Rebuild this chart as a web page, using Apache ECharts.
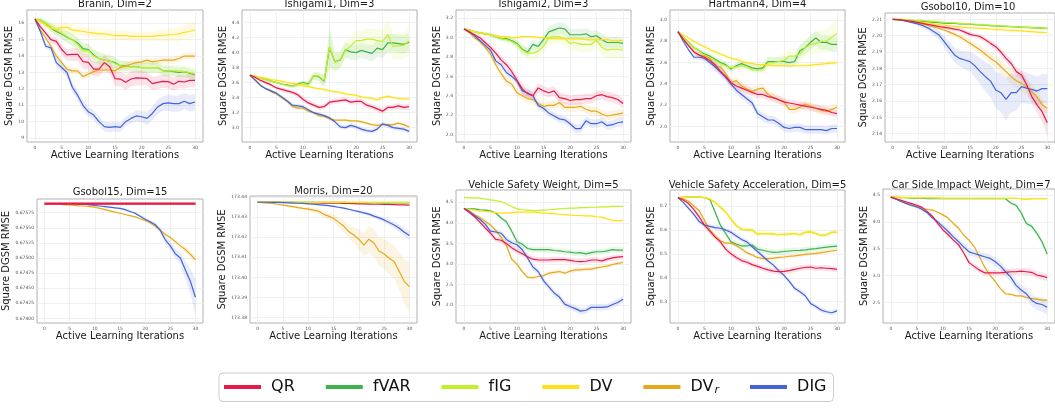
<!DOCTYPE html>
<html><head><meta charset="utf-8">
<script src="https://cdn.jsdelivr.net/npm/echarts@6/dist/echarts.min.js"></script>
<style>html,body{margin:0;padding:0;background:#fff}#c{width:1055px;height:408px}</style>
</head><body><div id="c"></div><script>
// ---------------- data ----------------
const iterations = [0,1,2,3,4,5,6,7,8,9,10,11,12,13,14,15,16,17,18,19,20,21,22,23,24,25,26,27,28,29,30];
const xTicks = [0,5,10,15,20,25,30];
const methods = ['QR','fVAR','fIG','DV','DVr','DIG'];
const titles = ['Branin, Dim=2','Ishigami1, Dim=3','Ishigami2, Dim=3','Hartmann4, Dim=4','Gsobol10, Dim=10',
  'Gsobol15, Dim=15','Morris, Dim=20','Vehicle Safety Weight, Dim=5','Vehicle Safety Acceleration, Dim=5','Car Side Impact Weight, Dim=7'];

// Branin
const bra_QR = [16.25,15.8,15.4,15.0,14.9,14.4,14.07,14.1,14.1,13.66,13.62,13.2,13.2,13.6,13.35,12.63,12.6,12.4,12.6,12.67,12.65,12.63,12.32,12.4,12.46,12.44,12.28,12.46,12.42,12.52,12.52];
const bra_fVAR = [16.25,16.2,16.0,15.7,15.5,15.35,15.15,15.0,14.8,14.45,14.4,14.05,13.85,13.75,13.7,13.6,13.4,13.4,13.35,13.35,13.3,13.3,13.3,13.3,13.1,13.1,13.05,13.0,13.05,12.95,12.85];
const bra_fIG = [16.25,16.2,16.0,15.8,15.6,15.4,15.2,15.0,14.7,14.3,14.35,14.0,13.85,13.75,13.7,13.55,13.4,13.35,13.35,13.35,13.3,13.3,13.3,13.3,13.1,13.1,13.1,13.1,13.05,13.0,12.9];
const bra_DV = [16.25,16.1,15.9,15.7,15.6,15.75,15.75,15.6,15.55,15.5,15.45,15.4,15.35,15.35,15.3,15.25,15.25,15.25,15.2,15.2,15.2,15.2,15.2,15.25,15.25,15.3,15.3,15.35,15.45,15.5,15.6];
const bra_DVr = [16.25,15.6,15.1,14.6,14.0,13.6,13.2,13.1,13.1,12.75,12.9,13.05,13.15,13.15,13.15,13.1,13.3,13.4,13.5,13.6,13.65,13.75,13.65,13.7,13.75,13.75,13.75,13.85,14.0,14.0,14.0];
const bra_DIG = [16.25,15.5,14.6,14.5,13.6,13.3,13.0,12.1,11.6,11.0,10.6,10.4,10.0,9.7,9.65,9.7,9.65,10.0,10.2,10.35,10.3,10.2,10.5,10.9,11.1,11.15,11.1,11.1,11.25,11.1,11.2];
const bra_QRsd = [0.05,0.1,0.15,0.2,0.25,0.3,0.35,0.4,0.4,0.45,0.45,0.45,0.45,0.45,0.45,0.45,0.45,0.45,0.45,0.45,0.45,0.4,0.4,0.4,0.4,0.4,0.4,0.4,0.4,0.4,0.4];
const bra_fVARsd = [0.05,0.15,0.2,0.25,0.3,0.3,0.35,0.35,0.35,0.35,0.35,0.35,0.35,0.35,0.35,0.35,0.3,0.3,0.3,0.3,0.3,0.3,0.3,0.3,0.3,0.3,0.3,0.3,0.3,0.3,0.3];
const bra_fIGsd = [0.05,0.15,0.2,0.25,0.3,0.35,0.35,0.4,0.4,0.4,0.4,0.4,0.4,0.4,0.4,0.35,0.35,0.35,0.35,0.35,0.35,0.35,0.35,0.35,0.35,0.35,0.35,0.35,0.35,0.35,0.35];
const bra_DVsd = [0.05,0.15,0.2,0.25,0.3,0.3,0.3,0.3,0.3,0.3,0.3,0.3,0.3,0.3,0.3,0.3,0.3,0.3,0.3,0.3,0.3,0.3,0.3,0.35,0.35,0.4,0.4,0.45,0.45,0.5,0.5];
const bra_DVrsd = [0.05,0.1,0.15,0.2,0.2,0.2,0.2,0.2,0.2,0.2,0.2,0.2,0.2,0.2,0.2,0.2,0.2,0.2,0.2,0.2,0.2,0.2,0.2,0.2,0.2,0.2,0.2,0.2,0.2,0.2,0.2];
const bra_DIGsd = [0.05,0.1,0.15,0.2,0.25,0.25,0.3,0.3,0.3,0.3,0.3,0.3,0.3,0.3,0.3,0.3,0.3,0.3,0.3,0.35,0.35,0.4,0.4,0.45,0.45,0.5,0.5,0.5,0.5,0.5,0.5];
const bra_ticks = [9,10,11,12,13,14,15,16];

// Ishigami1
const ish1_QR = [3.7,3.67,3.63,3.6,3.57,3.53,3.51,3.49,3.47,3.44,3.38,3.33,3.3,3.27,3.28,3.34,3.35,3.36,3.37,3.34,3.35,3.35,3.3,3.28,3.25,3.22,3.27,3.27,3.29,3.27,3.28];
const ish1_fVAR = [3.7,3.68,3.66,3.64,3.62,3.6,3.58,3.57,3.55,3.58,3.6,3.58,3.69,3.68,3.62,4.07,3.88,3.9,4.04,4.01,4.0,4.03,4.01,3.99,4.06,4.04,4.13,4.13,4.12,4.11,4.14];
const ish1_fIG = [3.7,3.68,3.66,3.64,3.62,3.6,3.58,3.56,3.55,3.57,3.59,3.57,3.69,3.69,3.63,4.08,3.87,3.91,4.03,4.09,4.16,4.16,4.18,4.18,4.16,4.15,4.24,4.08,4.09,4.1,4.16];
const ish1_DV = [3.7,3.69,3.67,3.66,3.64,3.63,3.62,3.6,3.59,3.58,3.56,3.55,3.53,3.52,3.51,3.49,3.48,3.47,3.45,3.44,3.43,3.41,3.4,3.39,3.37,3.4,3.42,3.4,3.39,3.385,3.38];
const ish1_DVr = [3.7,3.64,3.57,3.52,3.48,3.45,3.4,3.35,3.28,3.26,3.26,3.22,3.2,3.16,3.15,3.12,3.1,3.1,3.1,3.09,3.09,3.08,3.06,3.04,3.03,3.04,3.04,3.04,3.06,3.04,3.01];
const ish1_DIG = [3.7,3.63,3.56,3.52,3.49,3.46,3.41,3.36,3.3,3.29,3.28,3.24,3.2,3.18,3.16,3.13,3.08,3.01,3.0,3.03,3.01,2.98,2.96,2.95,2.98,3.05,3.03,3.0,2.99,2.98,2.95];
const ish1_QRsd = [0.01,0.015,0.02,0.02,0.025,0.025,0.03,0.03,0.03,0.03,0.035,0.035,0.035,0.035,0.035,0.035,0.035,0.035,0.035,0.035,0.04,0.04,0.04,0.04,0.04,0.04,0.04,0.04,0.04,0.04,0.04];
const ish1_fVARsd = [0.01,0.01,0.01,0.01,0.01,0.01,0.01,0.01,0.02,0.03,0.03,0.04,0.05,0.06,0.08,0.25,0.12,0.1,0.1,0.1,0.1,0.1,0.1,0.11,0.11,0.12,0.12,0.12,0.12,0.12,0.12];
const ish1_fIGsd = [0.01,0.01,0.01,0.01,0.01,0.01,0.01,0.01,0.02,0.03,0.03,0.04,0.05,0.06,0.08,0.3,0.14,0.12,0.12,0.12,0.13,0.13,0.14,0.14,0.15,0.16,0.2,0.17,0.18,0.18,0.2];
const ish1_DVsd = [0.01,0.01,0.01,0.01,0.015,0.015,0.015,0.015,0.015,0.015,0.02,0.02,0.02,0.02,0.02,0.02,0.02,0.02,0.02,0.02,0.02,0.02,0.02,0.02,0.02,0.02,0.02,0.02,0.02,0.02,0.02];
const ish1_DVrsd = [0.01,0.01,0.015,0.015,0.015,0.02,0.02,0.02,0.02,0.02,0.02,0.02,0.02,0.02,0.02,0.02,0.02,0.02,0.02,0.02,0.02,0.02,0.02,0.02,0.02,0.02,0.02,0.02,0.02,0.02,0.02];
const ish1_DIGsd = [0.01,0.01,0.015,0.015,0.02,0.02,0.02,0.02,0.025,0.025,0.025,0.025,0.025,0.025,0.025,0.03,0.03,0.03,0.03,0.03,0.03,0.03,0.03,0.03,0.03,0.03,0.03,0.03,0.03,0.03,0.03];
const ish1_ticks = [3.0,3.2,3.4,3.6,3.8,4.0,4.2,4.4];

// Ishigami2
const ish2_QR = [3.09,3.06,3.03,3.0,2.95,2.9,2.84,2.77,2.72,2.65,2.56,2.47,2.42,2.4,2.48,2.45,2.43,2.45,2.38,2.37,2.35,2.36,2.36,2.37,2.37,2.4,2.41,2.39,2.38,2.36,2.32];
const ish2_fVAR = [3.09,3.08,3.06,3.05,3.04,3.03,3.01,2.99,2.99,2.97,2.94,2.88,2.85,2.93,2.91,2.98,3.06,3.08,3.1,3.09,3.03,3.03,3.03,3.04,3.01,3.02,2.98,2.95,2.95,2.95,2.94];
const ish2_fIG = [3.09,3.08,3.06,3.05,3.04,3.03,3.01,2.99,2.98,2.96,2.93,2.87,2.84,2.84,2.86,2.91,3.0,3.01,3.01,2.99,2.94,2.95,2.93,2.93,2.93,2.97,2.9,2.87,2.88,2.88,2.87];
const ish2_DV = [3.09,3.07,3.06,3.05,3.04,3.03,3.02,3.01,3.01,3.0,3.0,3.01,3.01,3.01,3.0,3.0,2.99,2.99,2.99,2.99,2.99,2.99,2.99,2.98,2.98,2.98,2.98,2.98,2.97,2.97,2.97];
const ish2_DVr = [3.09,3.05,3.0,2.96,2.9,2.83,2.72,2.63,2.55,2.52,2.43,2.4,2.37,2.36,2.32,2.29,2.3,2.3,2.33,2.28,2.28,2.28,2.29,2.26,2.24,2.24,2.21,2.19,2.2,2.21,2.22];
const ish2_DIG = [3.09,3.06,3.02,2.97,2.92,2.87,2.76,2.72,2.64,2.6,2.55,2.45,2.43,2.4,2.3,2.27,2.22,2.19,2.16,2.15,2.11,2.06,2.06,2.14,2.11,2.11,2.13,2.09,2.1,2.12,2.13];
const ish2_QRsd = [0.005,0.01,0.015,0.02,0.025,0.03,0.035,0.04,0.045,0.05,0.05,0.05,0.05,0.05,0.05,0.05,0.05,0.05,0.05,0.05,0.05,0.05,0.05,0.05,0.05,0.05,0.05,0.05,0.05,0.05,0.05];
const ish2_fVARsd = [0.005,0.01,0.01,0.015,0.015,0.02,0.02,0.025,0.025,0.03,0.04,0.05,0.05,0.05,0.05,0.05,0.06,0.06,0.06,0.06,0.06,0.06,0.06,0.06,0.06,0.06,0.06,0.06,0.06,0.06,0.06];
const ish2_fIGsd = [0.005,0.01,0.01,0.015,0.015,0.02,0.02,0.025,0.03,0.035,0.04,0.05,0.06,0.06,0.07,0.07,0.07,0.07,0.07,0.07,0.08,0.08,0.08,0.08,0.08,0.08,0.09,0.09,0.09,0.09,0.09];
const ish2_DVsd = [0.005,0.01,0.01,0.01,0.01,0.015,0.015,0.015,0.015,0.015,0.015,0.015,0.015,0.015,0.015,0.015,0.015,0.015,0.015,0.015,0.015,0.015,0.015,0.015,0.015,0.015,0.015,0.015,0.015,0.015,0.015];
const ish2_DVrsd = [0.005,0.01,0.02,0.025,0.03,0.035,0.04,0.04,0.04,0.045,0.045,0.045,0.045,0.045,0.045,0.045,0.045,0.045,0.045,0.045,0.045,0.045,0.045,0.045,0.045,0.045,0.045,0.045,0.045,0.045,0.045];
const ish2_DIGsd = [0.005,0.01,0.015,0.02,0.025,0.03,0.03,0.03,0.035,0.035,0.035,0.04,0.04,0.04,0.04,0.04,0.04,0.04,0.04,0.04,0.04,0.045,0.045,0.045,0.045,0.045,0.045,0.045,0.045,0.045,0.045];
const ish2_ticks = [2.0,2.2,2.4,2.6,2.8,3.0,3.2];

// Hartmann4
const har_QR = [2.89,2.82,2.76,2.7,2.67,2.65,2.62,2.58,2.52,2.47,2.41,2.38,2.36,2.34,2.32,2.3,2.3,2.28,2.27,2.25,2.23,2.22,2.21,2.2,2.19,2.18,2.17,2.16,2.15,2.13,2.12];
const har_fVAR = [2.89,2.84,2.79,2.74,2.71,2.68,2.66,2.63,2.6,2.58,2.54,2.57,2.59,2.57,2.55,2.54,2.55,2.61,2.61,2.61,2.61,2.6,2.61,2.71,2.74,2.79,2.83,2.79,2.79,2.77,2.77];
const har_fIG = [2.89,2.84,2.79,2.74,2.71,2.67,2.65,2.62,2.59,2.57,2.55,2.56,2.57,2.56,2.53,2.53,2.53,2.6,2.6,2.61,2.62,2.66,2.66,2.68,2.74,2.77,2.78,2.8,2.8,2.84,2.87];
const har_DV = [2.89,2.86,2.83,2.8,2.77,2.75,2.72,2.7,2.68,2.66,2.64,2.63,2.61,2.6,2.59,2.58,2.58,2.58,2.57,2.57,2.57,2.57,2.57,2.57,2.57,2.575,2.58,2.585,2.59,2.595,2.6];
const har_DVr = [2.89,2.82,2.76,2.7,2.67,2.66,2.64,2.56,2.56,2.5,2.41,2.43,2.38,2.35,2.33,2.35,2.36,2.3,2.27,2.25,2.23,2.16,2.16,2.18,2.21,2.19,2.17,2.15,2.14,2.16,2.18];
const har_DIG = [2.89,2.8,2.72,2.65,2.65,2.64,2.6,2.56,2.51,2.46,2.4,2.34,2.3,2.26,2.22,2.12,2.09,2.06,2.06,2.03,1.99,1.98,1.99,1.99,1.97,1.97,1.97,1.97,1.96,1.98,1.98];
const har_QRsd = [0.005,0.01,0.015,0.02,0.025,0.03,0.03,0.035,0.035,0.035,0.035,0.035,0.035,0.035,0.035,0.035,0.035,0.035,0.035,0.035,0.035,0.035,0.035,0.035,0.035,0.035,0.035,0.035,0.035,0.035,0.035];
const har_fVARsd = [0.005,0.01,0.015,0.02,0.02,0.025,0.025,0.03,0.03,0.03,0.03,0.03,0.03,0.03,0.03,0.03,0.035,0.04,0.04,0.04,0.05,0.05,0.05,0.06,0.06,0.07,0.07,0.07,0.07,0.07,0.07];
const har_fIGsd = [0.005,0.01,0.015,0.02,0.02,0.025,0.025,0.03,0.03,0.03,0.03,0.03,0.03,0.03,0.03,0.03,0.04,0.05,0.05,0.05,0.06,0.06,0.07,0.07,0.08,0.09,0.1,0.1,0.11,0.12,0.13];
const har_DVsd = [0.005,0.01,0.01,0.015,0.015,0.02,0.02,0.02,0.02,0.02,0.02,0.02,0.02,0.02,0.02,0.02,0.02,0.02,0.02,0.02,0.02,0.02,0.02,0.02,0.02,0.02,0.02,0.02,0.02,0.02,0.02];
const har_DVrsd = [0.005,0.01,0.015,0.02,0.025,0.03,0.03,0.035,0.035,0.04,0.04,0.04,0.04,0.04,0.04,0.04,0.04,0.04,0.04,0.04,0.04,0.04,0.04,0.04,0.04,0.04,0.04,0.04,0.04,0.04,0.04];
const har_DIGsd = [0.005,0.01,0.015,0.02,0.025,0.03,0.035,0.04,0.04,0.04,0.04,0.04,0.04,0.04,0.04,0.04,0.04,0.04,0.04,0.04,0.04,0.04,0.04,0.04,0.04,0.04,0.04,0.04,0.04,0.04,0.04];
const har_ticks = [2.0,2.2,2.4,2.6,2.8,3.0];

// Gsobol10
const gs10_QR = [2.21,2.2098,2.2095,2.2091,2.2086,2.208,2.2074,2.2068,2.2062,2.2056,2.2051,2.2046,2.204,2.2035,2.2022,2.2008,2.2001,2.1994,2.1975,2.1953,2.1933,2.19,2.1861,2.183,2.178,2.176,2.17,2.1627,2.1576,2.1535,2.1467];
const gs10_fVAR = [2.21,2.2099,2.2097,2.2095,2.2092,2.2089,2.2087,2.2085,2.2082,2.208,2.2077,2.2076,2.2075,2.2073,2.2072,2.207,2.2068,2.2066,2.2064,2.2062,2.206,2.2058,2.2057,2.2055,2.2054,2.2052,2.2051,2.2049,2.2048,2.2046,2.2045];
const gs10_fIG = [2.21,2.2101,2.21,2.2098,2.2096,2.2094,2.2092,2.209,2.2088,2.2085,2.2082,2.208,2.2078,2.2076,2.2074,2.2072,2.207,2.2068,2.2066,2.2064,2.2062,2.206,2.2058,2.2056,2.2055,2.2053,2.2051,2.205,2.2048,2.2047,2.2045];
const gs10_DV = [2.21,2.2098,2.2095,2.2092,2.2088,2.2084,2.208,2.2076,2.2072,2.2068,2.2064,2.206,2.2057,2.2054,2.2051,2.2049,2.2047,2.2045,2.2043,2.2041,2.2039,2.2037,2.2035,2.2033,2.2031,2.2029,2.2027,2.2025,2.2022,2.202,2.2018];
const gs10_DVr = [2.21,2.2097,2.2093,2.2089,2.2083,2.2076,2.2069,2.2061,2.2053,2.2044,2.2035,2.2022,2.2008,2.1994,2.1974,2.1953,2.1932,2.1912,2.1886,2.1861,2.1841,2.181,2.178,2.1749,2.1724,2.1708,2.1684,2.1657,2.1627,2.1576,2.1555];
const gs10_DIG = [2.21,2.2099,2.2093,2.2086,2.2079,2.2071,2.2059,2.2045,2.2024,2.2004,2.1963,2.1922,2.1882,2.1861,2.1851,2.1841,2.1814,2.178,2.1749,2.1722,2.1667,2.1651,2.161,2.1651,2.1651,2.1688,2.1678,2.1671,2.1661,2.1676,2.1676];
const gs10_QRsd = [0,0.0002,0.0003,0.0004,0.0005,0.0006,0.0007,0.0008,0.0009,0.001,0.001,0.0011,0.0012,0.0013,0.0014,0.0015,0.0016,0.0017,0.0018,0.0019,0.002,0.0022,0.0024,0.0026,0.0028,0.003,0.0035,0.004,0.005,0.006,0.008];
const gs10_fVARsd = [0,0.0001,0.0001,0.0002,0.0002,0.0003,0.0003,0.0003,0.0004,0.0004,0.0004,0.0004,0.0004,0.0005,0.0005,0.0005,0.0005,0.0005,0.0005,0.0006,0.0006,0.0006,0.0006,0.0006,0.0006,0.0006,0.0007,0.0007,0.0007,0.0007,0.0007];
const gs10_fIGsd = [0,0.0001,0.0002,0.0002,0.0003,0.0003,0.0004,0.0004,0.0005,0.0005,0.0005,0.0006,0.0006,0.0006,0.0007,0.0007,0.0007,0.0008,0.0008,0.0008,0.0008,0.0009,0.0009,0.0009,0.0009,0.001,0.001,0.001,0.001,0.001,0.001];
const gs10_DVsd = [0,0.0001,0.0002,0.0003,0.0004,0.0005,0.0006,0.0006,0.0007,0.0007,0.0008,0.0008,0.0008,0.0009,0.0009,0.0009,0.001,0.001,0.001,0.001,0.001,0.001,0.001,0.001,0.001,0.001,0.001,0.001,0.001,0.001,0.001];
const gs10_DVrsd = [0,0.0002,0.0003,0.0004,0.0005,0.0006,0.0007,0.0008,0.0009,0.001,0.0012,0.0014,0.0016,0.0018,0.002,0.0022,0.0025,0.0028,0.003,0.0033,0.0036,0.004,0.0042,0.0045,0.0048,0.005,0.005,0.005,0.0045,0.0035,0.003];
const gs10_DIGsd = [0,0.0002,0.0004,0.0006,0.0008,0.001,0.0015,0.002,0.0025,0.003,0.0035,0.004,0.0045,0.005,0.0055,0.006,0.007,0.008,0.009,0.01,0.011,0.012,0.013,0.012,0.011,0.01,0.0095,0.009,0.009,0.009,0.009];
const gs10_ticks = [2.14,2.15,2.16,2.17,2.18,2.19,2.20,2.21];

// Gsobol15
const gs15_QR = [0.6759,0.6759,0.6759,0.6759,0.6759,0.6759,0.6759,0.6759,0.6759,0.6759,0.6759,0.6759,0.6759,0.6759,0.6759,0.6759,0.6759,0.6759,0.6759,0.6759,0.6759,0.6759,0.6759,0.6759,0.6759,0.6759,0.6759,0.6759,0.6759,0.6759,0.6759];
const gs15_fVAR = [0.6759,0.6759,0.6759,0.6759,0.6759,0.6759,0.6759,0.6759,0.6759,0.6759,0.6759,0.6759,0.6759,0.6759,0.6759,0.6759,0.6759,0.6759,0.6759,0.6759,0.6759,0.6759,0.6759,0.6759,0.6759,0.6759,0.6759,0.6759,0.6759,0.6759,0.6759];
const gs15_fIG = [0.6759,0.6759,0.6759,0.6759,0.6759,0.6759,0.6759,0.6759,0.6759,0.6759,0.6759,0.6759,0.6759,0.6759,0.6759,0.6759,0.6759,0.6759,0.6759,0.6759,0.6759,0.6759,0.6759,0.6759,0.6759,0.6759,0.6759,0.6759,0.6759,0.6759,0.6759];
const gs15_DV = [0.6759,0.6759,0.6759,0.6759,0.6759,0.6759,0.6759,0.6759,0.6759,0.6759,0.6759,0.6759,0.6759,0.6759,0.6759,0.6759,0.6759,0.6759,0.6759,0.6759,0.6759,0.6759,0.6759,0.6759,0.6759,0.6759,0.6759,0.6759,0.6759,0.6759,0.6759];
const gs15_DVr = [0.6759,0.6759,0.67589,0.67589,0.67588,0.67588,0.67587,0.67586,0.67586,0.67585,0.67584,0.67582,0.6758,0.67578,0.67576,0.67574,0.67572,0.6757,0.67568,0.67565,0.67562,0.67558,0.67553,0.67546,0.67539,0.67534,0.67527,0.6752,0.67514,0.67506,0.67497];
const gs15_DIG = [0.6759,0.6759,0.6759,0.6759,0.6759,0.6759,0.6759,0.67589,0.67589,0.67588,0.67587,0.67586,0.67585,0.67584,0.67583,0.67582,0.6758,0.67577,0.67574,0.67569,0.67564,0.6756,0.67555,0.67546,0.6753,0.6752,0.67507,0.675,0.6748,0.67461,0.67435];
const gs15_QRsd = [0.00002,0.00002,0.00002,0.00002,0.00002,0.00002,0.00002,0.00002,0.00002,0.00002,0.00002,0.00002,0.00002,0.00002,0.00002,0.00002,0.00002,0.00002,0.00002,0.00002,0.00002,0.00002,0.00002,0.00002,0.00002,0.00002,0.00002,0.00002,0.00002,0.00002,0.00002];
const gs15_flatsd = [0.000003,0.000003,0.000003,0.000003,0.000003,0.000003,0.000003,0.000003,0.000003,0.000003,0.000003,0.000003,0.000003,0.000003,0.000003,0.000003,0.000003,0.000003,0.000003,0.000003,0.000003,0.000003,0.000003,0.000003,0.000003,0.000003,0.000003,0.000003,0.000003,0.000003,0.000003];
const gs15_DVrsd = [0,0,0,0,0.000005,0.000005,0.000005,0.000005,0.000005,0.000005,0.00001,0.00001,0.00001,0.00001,0.00001,0.00001,0.00001,0.00001,0.00001,0.000015,0.000015,0.00002,0.00002,0.000025,0.00003,0.000035,0.00004,0.000045,0.00005,0.00006,0.00007];
const gs15_DIGsd = [0,0,0,0,0.000005,0.000005,0.000005,0.000005,0.000005,0.000005,0.000005,0.000005,0.00001,0.00001,0.00001,0.00001,0.000015,0.000015,0.00002,0.00002,0.000025,0.00003,0.00004,0.00005,0.00006,0.00007,0.00008,0.0001,0.00015,0.0002,0.0003];
const gs15_ticks = [0.674,0.67425,0.6745,0.67475,0.675,0.67525,0.6755,0.67575];

// Morris
const mor_QR = [173.4374,173.4374,173.4374,173.4374,173.4373,173.4373,173.4373,173.4373,173.4372,173.4372,173.4372,173.4371,173.4371,173.437,173.437,173.4369,173.4369,173.4368,173.4368,173.4367,173.4366,173.4366,173.4365,173.4364,173.4364,173.4363,173.4363,173.4362,173.4361,173.4361,173.436];
const mor_fVAR = [173.4374,173.4374,173.4374,173.4374,173.4374,173.4374,173.4374,173.4374,173.4374,173.4374,173.4373,173.4373,173.4373,173.4373,173.4373,173.4373,173.4373,173.4373,173.4372,173.4372,173.4372,173.4372,173.4372,173.4372,173.4371,173.4371,173.4371,173.4371,173.4371,173.4371,173.4371];
const mor_fIG = [173.4374,173.4374,173.4374,173.4374,173.4374,173.4374,173.4374,173.4374,173.4374,173.4374,173.4374,173.4374,173.4374,173.4374,173.4373,173.4373,173.4373,173.4373,173.4373,173.4373,173.4373,173.4373,173.4373,173.4373,173.4373,173.4373,173.4373,173.4373,173.4373,173.4373,173.4373];
const mor_DV = [173.4374,173.4374,173.4374,173.4374,173.4374,173.4374,173.4374,173.4374,173.4374,173.4374,173.4374,173.4374,173.4374,173.4374,173.4374,173.4374,173.4374,173.4374,173.4374,173.4374,173.4374,173.4374,173.4374,173.4374,173.4374,173.4374,173.4374,173.4374,173.4374,173.4374,173.4374];
const mor_DVr = [173.4374,173.4372,173.437,173.4368,173.4364,173.436,173.4356,173.4352,173.4347,173.4343,173.434,173.4335,173.433,173.4315,173.4305,173.4294,173.4275,173.4256,173.4228,173.4211,173.419,173.4161,173.419,173.417,173.4131,173.4116,173.4095,173.4078,173.4029,173.3979,173.3954];
const mor_DIG = [173.4374,173.4374,173.4374,173.4373,173.4373,173.4372,173.4371,173.437,173.4369,173.4368,173.4366,173.4364,173.4362,173.436,173.4357,173.4353,173.4349,173.4345,173.4339,173.4333,173.4327,173.4321,173.4315,173.4305,173.4296,173.4286,173.4273,173.4261,173.4244,173.4225,173.4208];
const mor_flatsd = [0.00005,0.00005,0.00005,0.00005,0.00005,0.00005,0.00005,0.00005,0.00005,0.00005,0.00005,0.00005,0.00005,0.00005,0.00005,0.00005,0.00005,0.00005,0.00005,0.00005,0.00005,0.00005,0.00005,0.00005,0.00005,0.00005,0.00005,0.00005,0.00005,0.00005,0.00005];
const mor_DVrsd = [0,0.0001,0.0002,0.0003,0.0004,0.0005,0.0006,0.0007,0.0008,0.0009,0.001,0.0012,0.0014,0.0016,0.0018,0.002,0.0025,0.003,0.0035,0.004,0.005,0.006,0.0065,0.007,0.0072,0.0075,0.008,0.0085,0.0095,0.011,0.0125];
const mor_DIGsd = [0,0,0.0001,0.0001,0.0001,0.0001,0.0002,0.0002,0.0002,0.0002,0.0003,0.0003,0.0003,0.0004,0.0004,0.0004,0.0005,0.0005,0.0006,0.0006,0.0007,0.0008,0.0009,0.001,0.0011,0.0012,0.0014,0.0016,0.0018,0.002,0.0023];
const mor_ticks = [173.38,173.39,173.40,173.41,173.42,173.43,173.44];

// Vehicle Safety Weight
const vsw_QR = [4.35,4.25,4.15,4.02,3.88,3.75,3.6,3.58,3.5,3.4,3.32,3.25,3.18,3.12,3.1,3.1,3.1,3.11,3.11,3.11,3.09,3.07,3.06,3.07,3.1,3.1,3.08,3.12,3.15,3.17,3.18];
const vsw_fVAR = [4.35,4.34,4.34,4.32,4.31,4.29,4.24,4.12,4.03,3.8,3.55,3.48,3.38,3.35,3.35,3.35,3.35,3.33,3.32,3.3,3.29,3.27,3.28,3.25,3.28,3.3,3.3,3.32,3.35,3.34,3.34];
const vsw_fIG = [4.62,4.61,4.61,4.6,4.58,4.56,4.54,4.52,4.46,4.4,4.34,4.32,4.31,4.3,4.3,4.31,4.32,4.33,4.34,4.35,4.36,4.36,4.37,4.37,4.38,4.38,4.39,4.39,4.4,4.4,4.4];
const vsw_DV = [4.35,4.33,4.31,4.29,4.28,4.27,4.25,4.24,4.24,4.25,4.26,4.26,4.26,4.26,4.25,4.24,4.23,4.22,4.21,4.2,4.19,4.18,4.18,4.17,4.17,4.15,4.14,4.1,4.06,4.05,4.06];
const vsw_DVr = [4.35,4.29,4.2,4.13,4.04,3.95,3.82,3.65,3.45,3.12,3.0,2.82,2.68,2.67,2.7,2.72,2.78,2.8,2.82,2.78,2.83,2.86,2.86,2.88,2.88,2.91,2.93,2.95,2.99,3.02,3.04];
const vsw_DIG = [4.35,4.28,4.18,4.09,3.97,3.8,3.78,3.75,3.6,3.52,3.47,3.35,3.15,2.93,2.82,2.6,2.45,2.3,2.2,2.03,1.97,1.92,1.86,1.88,1.95,1.95,1.95,1.96,2.02,2.07,2.15];
const vsw_QRsd = [0.01,0.03,0.04,0.05,0.06,0.07,0.07,0.07,0.07,0.07,0.07,0.07,0.07,0.07,0.07,0.07,0.07,0.07,0.07,0.07,0.07,0.07,0.07,0.07,0.07,0.07,0.07,0.07,0.07,0.07,0.07];
const vsw_fVARsd = [0.01,0.02,0.02,0.03,0.03,0.04,0.04,0.05,0.06,0.07,0.08,0.08,0.07,0.07,0.07,0.07,0.07,0.07,0.07,0.07,0.07,0.07,0.07,0.07,0.07,0.07,0.07,0.07,0.07,0.07,0.07];
const vsw_fIGsd = [0.02,0.02,0.02,0.02,0.02,0.02,0.02,0.02,0.02,0.02,0.02,0.02,0.02,0.02,0.02,0.02,0.02,0.02,0.02,0.02,0.02,0.02,0.02,0.02,0.02,0.02,0.02,0.02,0.02,0.02,0.02];
const vsw_DVsd = [0.01,0.02,0.02,0.02,0.02,0.02,0.02,0.02,0.02,0.02,0.025,0.025,0.025,0.025,0.025,0.025,0.025,0.025,0.025,0.025,0.03,0.03,0.03,0.03,0.03,0.03,0.03,0.03,0.03,0.03,0.03];
const vsw_DVrsd = [0.01,0.03,0.04,0.05,0.05,0.05,0.05,0.05,0.05,0.05,0.05,0.05,0.05,0.05,0.05,0.05,0.05,0.05,0.05,0.05,0.05,0.05,0.05,0.05,0.05,0.05,0.05,0.05,0.05,0.05,0.05];
const vsw_DIGsd = [0.01,0.03,0.04,0.05,0.06,0.06,0.07,0.07,0.07,0.07,0.08,0.08,0.08,0.08,0.08,0.08,0.08,0.08,0.08,0.08,0.08,0.08,0.08,0.08,0.08,0.08,0.08,0.08,0.08,0.08,0.08];
const vsw_ticks = [2.0,2.5,3.0,3.5,4.0,4.5];

// Vehicle Safety Acceleration
const vsa_QR = [0.735,0.725,0.71,0.685,0.655,0.62,0.595,0.57,0.55,0.52,0.5,0.485,0.472,0.465,0.455,0.448,0.44,0.433,0.428,0.426,0.427,0.43,0.435,0.44,0.443,0.445,0.44,0.442,0.44,0.438,0.435];
const vsa_fVAR = [0.735,0.736,0.737,0.737,0.737,0.735,0.728,0.675,0.62,0.585,0.55,0.541,0.533,0.533,0.537,0.52,0.515,0.51,0.506,0.507,0.51,0.512,0.514,0.515,0.517,0.52,0.522,0.525,0.528,0.53,0.532];
const vsa_fIG = [0.735,0.736,0.737,0.737,0.737,0.735,0.73,0.715,0.695,0.675,0.645,0.618,0.603,0.6,0.6,0.582,0.585,0.585,0.583,0.58,0.582,0.583,0.585,0.58,0.59,0.592,0.585,0.577,0.58,0.59,0.59];
const vsa_DV = [0.735,0.736,0.737,0.737,0.737,0.735,0.73,0.715,0.695,0.675,0.645,0.618,0.603,0.6,0.6,0.582,0.585,0.585,0.583,0.58,0.582,0.583,0.585,0.58,0.59,0.592,0.585,0.577,0.58,0.59,0.59];
const vsa_DVr = [0.735,0.73,0.72,0.7,0.68,0.64,0.6,0.575,0.555,0.545,0.545,0.535,0.52,0.505,0.495,0.485,0.48,0.48,0.482,0.485,0.487,0.49,0.492,0.495,0.498,0.5,0.502,0.505,0.508,0.512,0.515];
const vsa_DIG = [0.735,0.715,0.69,0.665,0.635,0.62,0.615,0.61,0.607,0.6,0.59,0.575,0.56,0.55,0.53,0.51,0.49,0.47,0.453,0.43,0.41,0.385,0.356,0.342,0.325,0.293,0.28,0.265,0.258,0.254,0.262];
const vsa_QRsd = [0.002,0.004,0.006,0.008,0.01,0.012,0.012,0.012,0.012,0.012,0.012,0.012,0.012,0.012,0.012,0.012,0.012,0.012,0.012,0.012,0.012,0.012,0.012,0.012,0.012,0.012,0.012,0.012,0.012,0.012,0.012];
const vsa_fVARsd = [0.001,0.001,0.001,0.001,0.001,0.002,0.004,0.008,0.01,0.012,0.012,0.012,0.012,0.012,0.012,0.012,0.012,0.012,0.012,0.012,0.012,0.012,0.012,0.012,0.012,0.012,0.012,0.012,0.012,0.012,0.012];
const vsa_fIGsd = [0.001,0.001,0.001,0.001,0.001,0.002,0.004,0.006,0.008,0.008,0.008,0.008,0.008,0.008,0.008,0.008,0.008,0.008,0.008,0.008,0.008,0.008,0.008,0.008,0.008,0.008,0.008,0.008,0.008,0.008,0.008];
const vsa_DVsd = [0.001,0.001,0.001,0.001,0.001,0.002,0.004,0.006,0.008,0.008,0.008,0.008,0.008,0.008,0.008,0.008,0.008,0.008,0.008,0.008,0.008,0.008,0.008,0.008,0.008,0.008,0.008,0.008,0.008,0.008,0.008];
const vsa_DVrsd = [0.002,0.004,0.006,0.008,0.008,0.008,0.008,0.008,0.008,0.008,0.008,0.008,0.008,0.008,0.008,0.008,0.008,0.008,0.008,0.008,0.008,0.008,0.008,0.008,0.008,0.008,0.008,0.008,0.008,0.008,0.008];
const vsa_DIGsd = [0.002,0.004,0.006,0.008,0.01,0.01,0.01,0.01,0.01,0.01,0.01,0.01,0.01,0.01,0.01,0.01,0.01,0.01,0.01,0.01,0.01,0.01,0.01,0.01,0.01,0.01,0.01,0.01,0.01,0.01,0.01];
const vsa_ticks = [0.3,0.4,0.5,0.6,0.7];

// Car Side Impact Weight
const csi_QR = [4.46,4.43,4.4,4.37,4.34,4.31,4.27,4.19,4.1,3.97,3.85,3.76,3.66,3.57,3.42,3.24,3.17,3.1,3.05,3.05,3.05,3.05,3.06,3.07,3.07,3.08,3.07,3.06,3.01,2.99,2.96];
const csi_fVAR = [4.46,4.455,4.45,4.45,4.44,4.44,4.44,4.43,4.43,4.43,4.43,4.43,4.43,4.43,4.43,4.43,4.43,4.43,4.43,4.43,4.43,4.43,4.43,4.35,4.31,4.17,3.97,3.92,3.79,3.63,3.4];
const csi_fIG = [4.46,4.46,4.455,4.45,4.45,4.45,4.45,4.45,4.45,4.445,4.44,4.44,4.44,4.44,4.44,4.44,4.44,4.44,4.44,4.44,4.44,4.44,4.44,4.44,4.44,4.43,4.42,4.43,4.43,4.43,4.43];
const csi_DV = [4.46,4.46,4.455,4.45,4.45,4.45,4.45,4.45,4.45,4.445,4.44,4.44,4.44,4.44,4.44,4.44,4.44,4.44,4.44,4.44,4.44,4.44,4.44,4.44,4.44,4.43,4.42,4.43,4.43,4.43,4.43];
const csi_DVr = [4.46,4.42,4.38,4.34,4.3,4.28,4.25,4.23,4.22,4.18,4.13,4.07,3.97,3.88,3.75,3.66,3.54,3.35,3.16,3.01,2.89,2.76,2.66,2.65,2.62,2.62,2.59,2.57,2.56,2.54,2.54];
const csi_DIG = [4.46,4.42,4.38,4.34,4.31,4.28,4.23,4.17,4.07,4.0,3.91,3.82,3.72,3.63,3.53,3.44,3.41,3.38,3.35,3.32,3.26,3.18,3.07,2.97,2.82,2.73,2.66,2.54,2.48,2.46,2.41];
const csi_QRsd = [0.005,0.01,0.015,0.02,0.02,0.025,0.025,0.03,0.03,0.03,0.03,0.03,0.03,0.035,0.04,0.045,0.05,0.05,0.05,0.05,0.05,0.05,0.055,0.06,0.06,0.06,0.065,0.065,0.07,0.07,0.07];
const csi_fVARsd = [0.005,0.005,0.005,0.005,0.005,0.005,0.005,0.005,0.005,0.005,0.005,0.005,0.005,0.005,0.005,0.005,0.005,0.005,0.005,0.005,0.005,0.005,0.01,0.03,0.035,0.04,0.05,0.05,0.055,0.06,0.06];
const csi_fIGsd = [0.005,0.005,0.005,0.005,0.005,0.005,0.005,0.005,0.005,0.005,0.01,0.01,0.01,0.01,0.01,0.01,0.01,0.01,0.01,0.01,0.01,0.01,0.01,0.01,0.01,0.01,0.01,0.01,0.01,0.01,0.01];
const csi_DVsd = [0.005,0.005,0.005,0.005,0.005,0.005,0.005,0.005,0.005,0.005,0.01,0.01,0.01,0.01,0.01,0.01,0.01,0.01,0.01,0.01,0.01,0.01,0.01,0.01,0.01,0.01,0.01,0.01,0.01,0.01,0.01];
const csi_DVrsd = [0.005,0.01,0.015,0.02,0.02,0.02,0.02,0.02,0.02,0.02,0.025,0.025,0.025,0.025,0.025,0.025,0.025,0.025,0.025,0.025,0.025,0.025,0.025,0.025,0.025,0.025,0.025,0.025,0.025,0.025,0.025];
const csi_DIGsd = [0.005,0.01,0.015,0.02,0.025,0.03,0.035,0.04,0.045,0.05,0.05,0.055,0.06,0.065,0.07,0.07,0.07,0.07,0.07,0.075,0.08,0.085,0.09,0.09,0.095,0.1,0.1,0.11,0.12,0.13,0.14];
const csi_ticks = [2.5,3.0,3.5,4.0,4.5];

// ---------------- assembly ----------------
const colors = ['#e6194b','#3cb44b','#c2f02a','#ffe119','#e6a817','#4363d8'];
const orderQRTop = [1,2,3,4,5,0];
const orderPlain = [0,1,2,3,4,5];
const panels = [
  {mean:[bra_QR,bra_fVAR,bra_fIG,bra_DV,bra_DVr,bra_DIG], sd:[bra_QRsd,bra_fVARsd,bra_fIGsd,bra_DVsd,bra_DVrsd,bra_DIGsd], ticks:bra_ticks, digits:0},
  {mean:[ish1_QR,ish1_fVAR,ish1_fIG,ish1_DV,ish1_DVr,ish1_DIG], sd:[ish1_QRsd,ish1_fVARsd,ish1_fIGsd,ish1_DVsd,ish1_DVrsd,ish1_DIGsd], ticks:ish1_ticks, digits:1},
  {mean:[ish2_QR,ish2_fVAR,ish2_fIG,ish2_DV,ish2_DVr,ish2_DIG], sd:[ish2_QRsd,ish2_fVARsd,ish2_fIGsd,ish2_DVsd,ish2_DVrsd,ish2_DIGsd], ticks:ish2_ticks, digits:1},
  {mean:[har_QR,har_fVAR,har_fIG,har_DV,har_DVr,har_DIG], sd:[har_QRsd,har_fVARsd,har_fIGsd,har_DVsd,har_DVrsd,har_DIGsd], ticks:har_ticks, digits:1},
  {mean:[gs10_QR,gs10_fVAR,gs10_fIG,gs10_DV,gs10_DVr,gs10_DIG], sd:[gs10_QRsd,gs10_fVARsd,gs10_fIGsd,gs10_DVsd,gs10_DVrsd,gs10_DIGsd], ticks:gs10_ticks, digits:2},
  {mean:[gs15_QR,gs15_fVAR,gs15_fIG,gs15_DV,gs15_DVr,gs15_DIG], sd:[gs15_QRsd,gs15_flatsd,gs15_flatsd,gs15_flatsd,gs15_DVrsd,gs15_DIGsd], ticks:gs15_ticks, digits:5},
  {mean:[mor_QR,mor_fVAR,mor_fIG,mor_DV,mor_DVr,mor_DIG], sd:[mor_flatsd,mor_flatsd,mor_flatsd,mor_flatsd,mor_DVrsd,mor_DIGsd], ticks:mor_ticks, digits:2},
  {mean:[vsw_QR,vsw_fVAR,vsw_fIG,vsw_DV,vsw_DVr,vsw_DIG], sd:[vsw_QRsd,vsw_fVARsd,vsw_fIGsd,vsw_DVsd,vsw_DVrsd,vsw_DIGsd], ticks:vsw_ticks, digits:1},
  {mean:[vsa_QR,vsa_fVAR,vsa_fIG,vsa_DV,vsa_DVr,vsa_DIG], sd:[vsa_QRsd,vsa_fVARsd,vsa_fIGsd,vsa_DVsd,vsa_DVrsd,vsa_DIGsd], ticks:vsa_ticks, digits:1},
  {mean:[csi_QR,csi_fVAR,csi_fIG,csi_DV,csi_DVr,csi_DIG], sd:[csi_QRsd,csi_fVARsd,csi_fIGsd,csi_DVsd,csi_DVrsd,csi_DIGsd], ticks:csi_ticks, digits:1}
];
// layout: plot box edges (px), y extent, name gaps, title centre, draw order, QR line width
const layout = [
  {l:27, t:10, r:203, b:142, min:8.76, max:16.81, yGap:10, tx:115, ty:4.7, order:orderQRTop, qrW:1.2},
  {l:242,t:10, r:417, b:142, min:2.809, max:4.569, yGap:14, tx:329.5, ty:4.7, order:orderQRTop, qrW:1.2},
  {l:456,t:10, r:631, b:142, min:1.921, max:3.286, yGap:12, tx:543.5, ty:4.7, order:orderQRTop, qrW:1.2},
  {l:670,t:10, r:845, b:142, min:1.853, max:3.094, yGap:12, tx:757.5, ty:4.7, order:orderQRTop, qrW:1.2},
  {l:885,t:13, r:1059,b:142, min:2.1349, max:2.2139, yGap:12, tx:968, ty:7, order:orderQRTop, qrW:1.2},
  {l:37, t:199,r:203, b:323, min:0.673923, max:0.675976, yGap:20, tx:120, ty:192, order:orderQRTop, qrW:2.2},
  {l:250,t:196,r:417, b:323, min:173.3773, max:173.4405, yGap:21, tx:333.5, ty:191, order:orderPlain, qrW:1.2},
  {l:456,t:190,r:631, b:323, min:1.571, max:4.799, yGap:12, tx:543.5, ty:185.3, order:orderQRTop, qrW:1.2},
  {l:670,t:190,r:845, b:323, min:0.2111, max:0.7669, yGap:12, tx:757.5, ty:185.3, order:orderQRTop, qrW:1.2},
  {l:883,t:189,r:1059,b:323, min:2.115, max:4.612, yGap:10, tx:971, ty:185.3, order:orderQRTop, qrW:1.2}
];
const FONT = 'DejaVu Sans';
const grids = [], xAxes = [], yAxes = [], series = [], graphics = [];

panels.forEach((p, gi) => {
  const L = layout[gi];
  grids.push({left:L.l, top:L.t, width:L.r-L.l, height:L.b-L.t, show:true, borderColor:'#b0b0b0', borderWidth:1, backgroundColor:'#fff'});
  xAxes.push({type:'value', gridIndex:gi, min:-1.5, max:31.5,
    axisLine:{show:false}, axisTick:{show:false, customValues:xTicks},
    axisLabel:{customValues:xTicks, fontSize:4.5, color:'#555', margin:3, fontFamily:FONT},
    splitLine:{show:true, lineStyle:{color:'#ececec', width:0.8}},
    name:'Active Learning Iterations', nameLocation:'middle', nameGap:7,
    nameTextStyle:{fontSize:10, color:'#1a1a1a', fontFamily:FONT, verticalAlign:'top'}});
  yAxes.push({type:'value', gridIndex:gi, min:L.min, max:L.max, scale:true,
    axisLine:{show:false}, axisTick:{show:false, customValues:p.ticks},
    axisLabel:{customValues:p.ticks, fontSize:4.5, color:'#555', margin:3, fontFamily:FONT,
      formatter:(v)=>Number(v).toFixed(p.digits)},
    splitLine:{show:true, lineStyle:{color:'#ececec', width:0.8}},
    name:'Square DGSM RMSE', nameLocation:'middle', nameGap:L.yGap,
    nameTextStyle:{fontSize:10, color:'#1a1a1a', fontFamily:FONT}});
  graphics.push({type:'text', x:L.tx, y:L.ty,
    style:{text:titles[gi], fontSize:10, fontFamily:FONT, fill:'#1a1a1a', align:'center', verticalAlign:'middle'}});
  // shaded bands (custom polygons through the axes' scales)
  L.order.forEach(mi => {
    const mean = p.mean[mi], sd = p.sd[mi], col = colors[mi];
    const bandData = mean.map((v,i)=>[iterations[i], v - sd[i], v + sd[i]]);
    series.push({type:'custom', name:methods[mi]+'_band', xAxisIndex:gi, yAxisIndex:gi, silent:true, clip:true, z:1,
      encode:{x:0, y:[1,2]}, data:bandData,
      renderItem:(params, api) => {
        if (params.dataIndex !== 0) return null;
        const pts = [];
        for (let i = 0; i < bandData.length; i++) pts.push(api.coord([bandData[i][0], bandData[i][2]]));
        for (let i = bandData.length - 1; i >= 0; i--) pts.push(api.coord([bandData[i][0], bandData[i][1]]));
        return {type:'polygon', shape:{points:pts}, style:{fill:col, opacity:0.12}, silent:true};
      }});
  });
  L.order.forEach(mi => {
    series.push({type:'line', name:methods[mi], xAxisIndex:gi, yAxisIndex:gi,
      data: p.mean[mi].map((v,i)=>[iterations[i], v]), symbol:'none', silent:true,
      itemStyle:{color:colors[mi]}, lineStyle:{color:colors[mi], width: mi === 0 ? L.qrW : 1.2}, z:3});
  });
});

const chart = echarts.init(document.getElementById('c'), null, {renderer:'canvas'});
chart.setOption({
  animation:false,
  backgroundColor:'#fff',
  textStyle:{fontFamily:FONT},
  grid:grids, xAxis:xAxes, yAxis:yAxes, series:series,
  graphic:graphics,
  legend:{data:methods, left:219, top:373, orient:'horizontal', icon:'rect', itemWidth:37, itemHeight:4, itemGap:31,
    padding:[6,7,6,5], borderColor:'#cccccc', borderWidth:1, borderRadius:4, selectedMode:false,
    formatter:(n)=> n==='DVr' ? ' DV{sub|r}' : ' '+n,
    textStyle:{fontSize:16, color:'#111', fontFamily:FONT,
      rich:{sub:{fontSize:11, fontStyle:'italic', fontFamily:FONT, color:'#111', verticalAlign:'bottom', padding:[6,0,0,1]}}}}
});
</script></body></html>
